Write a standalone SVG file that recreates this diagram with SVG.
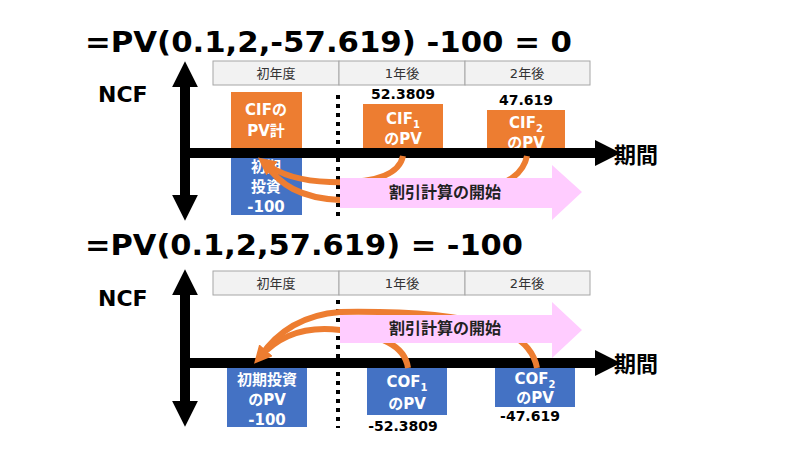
<svg xmlns="http://www.w3.org/2000/svg" width="800" height="450" viewBox="0 0 800 450">
<defs>
<style>
text{font-family:"DejaVu Sans","Noto Sans CJK JP",sans-serif;font-weight:bold}
.t{font-size:29px;fill:#000}
.ncf{font-size:22px}
.hd{fill:#f2f2f2;stroke:#a6a6a6;stroke-width:1}
.ht{font-size:13px;font-weight:normal;fill:#333;text-anchor:middle}
.or{fill:#ed7d31}
.bl{fill:#4472c4}
.bt{font-size:15px;fill:#fff;text-anchor:middle}
.num{font-size:14px;fill:#000;text-anchor:middle}
.ax{stroke:#000;stroke-width:10;fill:none}
.dot{stroke:#000;stroke-width:4;stroke-dasharray:4,5}
.cv{stroke:#ed7d31;stroke-width:6;fill:none}
.pk{fill:#ffccff}
.pt{font-size:16px;fill:#222;text-anchor:middle}
</style>
<marker id="oa" viewBox="0 0 10 10" refX="5" refY="5" markerWidth="3" markerHeight="3" orient="auto"><path d="M0,0L10,5L0,10z" fill="#ed7d31"/></marker>
<marker id="ka" viewBox="0 0 10 10" refX="2" refY="5" markerWidth="2.6" markerHeight="2.6" orient="auto-start-reverse"><path d="M0,0L10,5L0,10z" fill="#000"/></marker>
</defs>
<text class="t" x="85" y="52" textLength="487" lengthAdjust="spacingAndGlyphs">=PV(0.1,2,-57.619) -100 = 0</text>
<text class="t" x="85" y="255" textLength="438" lengthAdjust="spacingAndGlyphs">=PV(0.1,2,57.619) = -100</text>
<text class="ncf" x="98" y="102">NCF</text>
<text class="ncf" x="98" y="306">NCF</text>
<g id="header1">
<rect class="hd" x="213" y="61" width="126" height="24"/><rect class="hd" x="339" y="61" width="126" height="24"/><rect class="hd" x="465" y="61" width="125" height="24"/>
<text class="ht" x="276" y="78">初年度</text><text class="ht" x="402" y="78">1年後</text><text class="ht" x="527" y="78">2年後</text>
</g>
<g id="header2">
<rect class="hd" x="213" y="271" width="126" height="24"/><rect class="hd" x="339" y="271" width="126" height="24"/><rect class="hd" x="465" y="271" width="125" height="24"/>
<text class="ht" x="276" y="288">初年度</text><text class="ht" x="402" y="288">1年後</text><text class="ht" x="527" y="288">2年後</text>
</g>
<g id="boxes1">
<rect class="bl" x="231" y="155" width="71" height="60"/>
<text class="bt" x="266" y="172">初期</text><text class="bt" x="266" y="192">投資</text><text class="bt" x="266" y="212">-100</text>
<rect class="or" x="231" y="92" width="71" height="60"/>
<text class="bt" x="266" y="115">CIFの</text><text class="bt" x="266" y="136">PV計</text>
<rect class="or" x="363" y="104" width="80" height="48"/>
<text class="bt" x="403" y="124">CIF<tspan font-size="10" dy="4">1</tspan></text><text class="bt" x="403" y="144">のPV</text>
<text class="num" x="403" y="99">52.3809</text>
<rect class="or" x="487" y="110" width="78" height="42"/>
<text class="bt" x="526" y="128">CIF<tspan font-size="10" dy="4">2</tspan></text><text class="bt" x="526" y="148">のPV</text>
<text class="num" x="526" y="105">47.619</text>
</g>
<g id="boxes2">
<rect class="bl" x="227" y="368" width="80" height="59"/>
<text class="bt" x="267" y="385">初期投資</text><text class="bt" x="267" y="405">のPV</text><text class="bt" x="267" y="425">-100</text>
<rect class="bl" x="367" y="368" width="80" height="47"/>
<text class="bt" x="407" y="387">COF<tspan font-size="10" dy="4">1</tspan></text><text class="bt" x="407" y="409">のPV</text>
<text class="num" x="403" y="431">-52.3809</text>
<rect class="bl" x="495" y="368" width="80" height="39"/>
<text class="bt" x="535" y="384">COF<tspan font-size="10" dy="4">2</tspan></text><text class="bt" x="535" y="403">のPV</text>
<text class="num" x="530" y="421">-47.619</text>
</g>
<g id="connectors">
<line class="ax" x1="185" y1="82" x2="185" y2="200" marker-start="url(#ka)" marker-end="url(#ka)"/>
<line class="ax" x1="185" y1="153" x2="600" y2="153" marker-end="url(#ka)"/>
<line class="ax" x1="185" y1="290" x2="185" y2="406" marker-start="url(#ka)" marker-end="url(#ka)"/>
<line class="ax" x1="185" y1="363" x2="600" y2="363" marker-end="url(#ka)"/>
<line class="dot" x1="338" y1="95" x2="338" y2="217"/>
<line class="dot" x1="338" y1="300" x2="338" y2="428"/>
<path class="cv" d="M403,156 C398,180 360,183 330,182 C300,181 280,175 265,163" marker-end="url(#oa)"/>
<path class="cv" d="M527,156 C520,190 470,200 340,200 C300,198 280,185 265,163"/>
<path class="cv" d="M408,368 C405,345 380,335 340,330 C300,325 275,340 260,357" marker-end="url(#oa)"/>
<path class="cv" d="M537,368 C530,330 480,310 340,312 C300,315 275,335 260,357"/>
</g>
<g id="pink1">
<path class="pk" d="M340,178H552V165L582,192L552,220V208H340z"/>
<text class="pt" x="445" y="198">割引計算の開始</text>
</g>
<g id="pink2">
<path class="pk" d="M340,315H552V302L582,330L552,358V343H340z"/>
<text class="pt" x="445" y="334">割引計算の開始</text>
</g>
<text font-size="22" x="614" y="163">期間</text>
<text font-size="22" x="614" y="372">期間</text>
</svg>
